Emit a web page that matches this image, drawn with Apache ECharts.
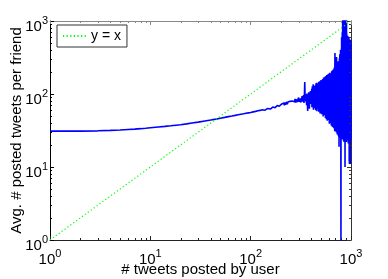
<!DOCTYPE html>
<html><head><meta charset="utf-8">
<script src="https://cdn.jsdelivr.net/npm/echarts@6/dist/echarts.min.js"></script>
<style>html,body{margin:0;padding:0;background:#fff}#c{width:388px;height:279px}</style>
</head><body><div id="c"></div><script>
const FONT = '"Liberation Sans", Arial, Helvetica, sans-serif';

// axis ticks
const tickValues = [1, 10, 100, 1000];
const tickExponents = ['0', '1', '2', '3'];
const minorTickValues = [2,3,4,5,6,7,8,9,20,30,40,50,60,70,80,90,200,300,400,500,600,700,800,900];

// titles
const xAxisTitle = '# tweets posted by user';
const yAxisTitle = 'Avg. # posted tweets per friend';
const legendLabel = 'y = x';

// reference line y = x
const refLineX = [1, 1000];
const refLineY = [1, 1000];

// blue series: smooth part
const smoothX = [1,2,3,4,5,6,7,8,9,10,12,14,16,18,20,23,26,30,35,40,45,50,55,60,65,70,75,80,85,90,95];
const smoothY = [31,31,31.3,31.7,32.1,32.6,33.0,33.5,34.0,34.5,35.3,36.0,36.7,37.4,38.0,39.0,40.0,41.2,42.7,44.0,45.3,46.6,47.8,49.0,50.0,51.0,52.0,52.9,53.7,54.5,55.2];

// blue series: noisy part A (x = 100, 103, ... 199)
const segAStart = 100, segAStep = 3;
const segAY = [55.8,54.6,56.9,56.1,57.8,56.5,58.9,57.4,59.6,58.2,60.7,59.1,61.5,60.0,62.8,60.6,63.4,61.9,64.5,62.3,65.9,63.1,66.2,64.8,67.5,65.0,68.6,65.9,69.4,67.2,70.8,67.9,71.5,69.0];

// noisy part B (x = 202, 205, ... 400)
const segBStart = 202, segBStep = 3;
const segBY = [72.5,68.1,73.9,69.4,75.2,70.0,76.8,71.3,74.1,78.0,72.2,77.5,73.6,80.1,74.0,79.3,75.5,
  81.8,74.7,80.2,76.9,83.5,75.8,82.0,78.4,85.6,76.1,84.3,79.2,87.0,77.5,83.8,80.6,
  89.5,77.9,86.2,81.0,91.8,76.4,88.1,82.7,94.0,78.8,87.5,84.1,96.3,75.2,90.4,146.0,80.5,
  98.7,79.0,92.6,70.1,101.5,84.0,58.5,95.2,76.3,105.8,81.4,62.7,99.0,86.9,110.2,72.8,94.5];

// noisy part C (x = 402, 404, ... 1000)
const segCStart = 402, segCStep = 2;
const segCY = [
  102,74,118,66,95,128,70,110,82,136,61,99,121,72,88,131,64,115,79,104,
  125,60,97,140,68,112,85,143,58,106,130,71,92,138,63,118,80,146,57,101,
  134,66,150,75,109,54,141,88,124,59,156,70,98,137,53,119,83,152,62,105,
  160,58,127,49,146,77,168,64,112,51,158,90,139,55,172,68,121,47,149,81,
  176,52,133,45,165,73,182,57,118,43,178,95,150,48,186,63,128,44,170,86,
  190,49,140,39,175,66,196,52,122,40,183,100,160,42,193,58,135,37,178,80,
  205,45,150,36,188,60,212,48,130,35,198,95,170,38,218,55,142,34,200,75,
  230,40,160,31,210,365,52,140,33,225,88,185,35,250,50,150,30,215,320,70,
  240,36,170,28,260,62,195,29,280,45,150,27,235,85,270,31,180,26,250,19,
  230,34,310,27,190,55,350,25,260,40,205,28,400,60,280,24,0.9,150,330,30,
  420,28,600,35,310,26,520,70,700,24,380,45,1500,30,650,27,900,50,1600,23,
  1800,26,750,32,2000,22,560,48,1200,25,880,28,1700,35,600,10,450,30,700,24,
  620,27,1900,23,800,40,2200,26,950,22,1400,33,680,25,500,45,420,28,560,24,
  480,30,630,23,390,55,600,26,520,21,440,38,610,25,350,29,580,22,470,12,
  420,11,530,24,380,28,560,20,450,30,510,11,400,26,550,23,470,27,520,25];

const blueData = [];
smoothX.forEach((x, i) => blueData.push([x, smoothY[i]]));
segAY.forEach((y, i) => blueData.push([segAStart + i * segAStep, y]));
segBY.forEach((y, i) => blueData.push([segBStart + i * segBStep, y]));
segCY.forEach((y, i) => blueData.push([segCStart + i * segCStep, y]));

const refData = refLineX.map((x, i) => [x, refLineY[i]]);
const minorData = [];
minorTickValues.forEach(v => { minorData.push([v, 1]); minorData.push([v, 2]); });

function tickLabel(v) {
  const lv = Math.log10(v);
  for (let i = 0; i < tickValues.length; i++) {
    if (Math.abs(lv - Math.log10(tickValues[i])) < 0.01) return '{b|10}{s|' + tickExponents[i] + '}';
  }
  return '';
}
const rich = {
  b: { fontSize: 15, fontFamily: FONT, color: '#000', verticalAlign: 'bottom' },
  s: { fontSize: 11, fontFamily: FONT, color: '#000', verticalAlign: 'top', padding: [0, 0, 8, 0] }
};

const chart = echarts.init(document.getElementById('c'), null, { renderer: 'canvas' });
chart.setOption({
  animation: false,
  backgroundColor: '#fff',
  grid: { left: 50, right: 37, top: 21, bottom: 39, containLabel: false, outerBoundsMode: 'none' },
  legend: {
    data: [{ name: legendLabel }],
    left: 57, top: 25, itemWidth: 23, itemHeight: 12, padding: [4, 6, 4, 5],
    borderColor: '#333', borderWidth: 1, backgroundColor: '#fff',
    itemStyle: { color: 'rgba(0,0,0,0)', opacity: 0, borderWidth: 0 },
    textStyle: { fontFamily: FONT, fontSize: 14, color: '#000' }
  },
  xAxis: [{
    type: 'log', logBase: 10, min: 1, max: 1000, position: 'bottom',
    name: xAxisTitle, nameLocation: 'middle', nameGap: 22, nameMoveOverlap: false,
    nameTextStyle: { fontFamily: FONT, fontSize: 15, color: '#000' },
    axisLine: { onZero: false, lineStyle: { color: '#222', width: 1 } },
    axisTick: { inside: true, length: 4, lineStyle: { color: '#222' } },
    axisLabel: { formatter: tickLabel, rich: rich, margin: 8 },
    splitLine: { show: false }
  }, {
    type: 'log', logBase: 10, min: 1, max: 1000, position: 'top',
    axisLine: { onZero: false, lineStyle: { color: '#888', width: 1 } },
    axisTick: { inside: true, length: 4, lineStyle: { color: '#888' } },
    axisLabel: { show: false }, splitLine: { show: false }
  }],
  yAxis: [{
    type: 'log', logBase: 10, min: 1, max: 1000, position: 'left',
    name: yAxisTitle, nameLocation: 'middle', nameGap: 26, nameRotate: 90, nameMoveOverlap: false,
    nameTextStyle: { fontFamily: FONT, fontSize: 15, color: '#000' },
    axisLine: { onZero: false, lineStyle: { color: '#000', width: 1 } },
    axisTick: { inside: true, length: 4, lineStyle: { color: '#000' } },
    axisLabel: { formatter: tickLabel, rich: rich, margin: 2, padding: [7, 0, 0, 0] },
    splitLine: { show: false }
  }, {
    type: 'log', logBase: 10, min: 1, max: 1000, position: 'right',
    axisLine: { onZero: false, lineStyle: { color: '#333', width: 1 } },
    axisTick: { inside: true, length: 4, lineStyle: { color: '#333' } },
    axisLabel: { show: false }, splitLine: { show: false }
  }],
  series: [{
    type: 'line', name: 'avg', data: blueData, symbol: 'none', showSymbol: false,
    lineStyle: { color: '#0000ff', width: 1.6 }, itemStyle: { color: '#0000ff' },
    clip: true, z: 3, silent: true
  }, {
    type: 'line', name: legendLabel, data: refData, symbol: 'none', showSymbol: false,
    lineStyle: { color: '#00ff00', width: 1.2, type: [1.2, 2.4] }, itemStyle: { color: '#00ff00' },
    clip: true, z: 4, silent: true
  }, {
    type: 'custom', name: 'minorTicks', data: minorData, clip: false, silent: true, z: 5,
    renderItem: function (params, api) {
      const v = api.value(0), kind = api.value(1);
      const L = 2;
      if (kind === 1) {
        const p = api.coord([v, 1]), q = api.coord([v, 1000]);
        const x = Math.round(p[0]) + 0.5;
        return { type: 'group', children: [
          { type: 'line', shape: { x1: x, y1: p[1], x2: x, y2: p[1] - L }, style: { stroke: '#222', lineWidth: 1 } },
          { type: 'line', shape: { x1: x, y1: q[1], x2: x, y2: q[1] + L }, style: { stroke: '#888', lineWidth: 1 } }
        ] };
      } else {
        const p = api.coord([1, v]), q = api.coord([1000, v]);
        const y = Math.round(p[1]) + 0.5;
        return { type: 'group', children: [
          { type: 'line', shape: { x1: p[0], y1: y, x2: p[0] + L, y2: y }, style: { stroke: '#000', lineWidth: 1 } },
          { type: 'line', shape: { x1: q[0], y1: y, x2: q[0] - L, y2: y }, style: { stroke: '#333', lineWidth: 1 } }
        ] };
      }
    }
  }]
});
</script></body></html>
